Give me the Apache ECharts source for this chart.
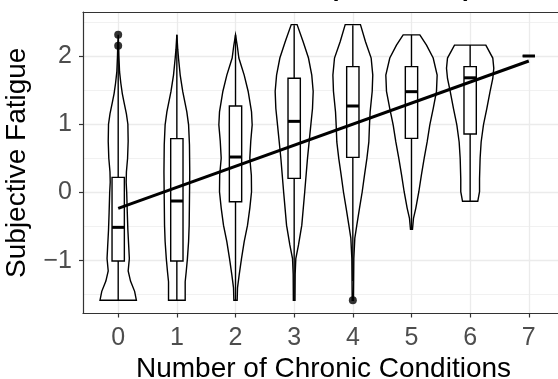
<!DOCTYPE html>
<html><head><meta charset="utf-8">
<script src="https://cdn.jsdelivr.net/npm/echarts@6/dist/echarts.min.js"></script>
<style>html,body{margin:0;padding:0;background:#fff}#c{width:558px;height:379px}</style>
</head><body><div id="c"></div>
<script>
// ---- data ----
const categories = [0, 1, 2, 3, 4, 5, 6, 7];
const yTickValues = [-1, 0, 1, 2];
const yMinorValues = [-1.5, -0.5, 0.5, 1.5, 2.5];
const titleText = 'Chronic Conditions (2019, 2021)';

// violin outlines: [value, half-width in category units]
const violin0 = [[2.31,0],[2.2,0.006],[2.0,0.012],[1.77,0.023],[1.6,0.045],[1.45,0.07],[1.33,0.097],[1.15,0.14],[1.0,0.165],[0.75,0.17],[0.5,0.16],[0.3,0.14],[0.15,0.136],[0,0.145],[-0.3,0.155],[-0.55,0.165],[-0.8,0.18],[-0.97,0.19],[-1.15,0.17],[-1.3,0.21],[-1.45,0.28],[-1.58,0.31]];
const violin1 = [[2.31,0],[2.1,0.015],[1.97,0.028],[1.72,0.057],[1.48,0.1],[1.18,0.17],[0.99,0.2],[0.7,0.215],[0.3,0.22],[-0.1,0.215],[-0.48,0.21],[-0.72,0.2],[-0.97,0.18],[-1.16,0.16],[-1.31,0.142],[-1.58,0.142]];
const violin2 = [[2.31,0],[2.15,0.03],[1.97,0.057],[1.72,0.148],[1.48,0.216],[1.18,0.273],[0.99,0.284],[0.75,0.26],[0.5,0.244],[0.25,0.27],[0.01,0.273],[-0.23,0.244],[-0.48,0.205],[-0.72,0.148],[-0.97,0.102],[-1.21,0.0625],[-1.4,0.034],[-1.58,0.028]];
const violin3 = [[2.46,0.05],[2.21,0.153],[1.97,0.244],[1.72,0.3],[1.48,0.324],[1.23,0.3125],[0.99,0.284],[0.5,0.227],[0.01,0.18],[-0.48,0.13],[-0.77,0.074],[-0.97,0.028],[-1.2,0.017],[-1.58,0.014]];
const violin4 = [[2.46,0.13],[2.21,0.216],[1.97,0.3125],[1.72,0.34],[1.48,0.33],[1.18,0.295],[0.99,0.284],[0.74,0.273],[0.5,0.24],[0.26,0.2],[0.01,0.16],[-0.23,0.114],[-0.48,0.068],[-0.67,0.034],[-0.97,0.017],[-1.58,0.011]];
const violin5 = [[2.31,0.142],[2.16,0.256],[1.97,0.37],[1.72,0.4375],[1.48,0.426],[1.23,0.37],[0.99,0.3125],[0.74,0.267],[0.5,0.216],[0.26,0.17],[0.01,0.125],[-0.23,0.074],[-0.38,0.034],[-0.54,0.017]];
const violin6 = [[2.16,0.267],[1.97,0.386],[1.82,0.403],[1.67,0.386],[1.48,0.34],[1.23,0.284],[0.99,0.227],[0.74,0.1875],[0.5,0.17],[0.2,0.16],[0.01,0.16],[-0.13,0.13]];
const violinShapes = [violin0, violin1, violin2, violin3, violin4, violin5, violin6];

// boxplot statistics per category
const whiskerLow  = [-1.58, -1.58, -1.58, -1.58, -1.30, -0.54, -0.13, 2.0];
const boxQ1       = [-1.006, -1.006, -0.136, 0.206, 0.514, 0.793, 0.856, 2.0];
const boxMedian   = [-0.512, -0.126, 0.519, 1.042, 1.267, 1.477, 1.68, 2.0];
const boxQ3       = [0.221, 0.788, 1.267, 1.673, 1.844, 1.844, 1.844, 2.0];
const whiskerHigh = [2.0, 2.31, 2.31, 2.45, 2.45, 2.31, 2.16, 2.0];
const outliers = [[0, 2.15], [0, 2.31], [4, -1.58]];

// linear fit
const fitLine = [[0, -0.234], [7, 1.927]];

// ---- chart ----
const FONT = '"Liberation Sans", Arial, Helvetica, sans-serif';
const BOX_HW = 0.105;
const LW = 1.4;
const BORDER = { show: true, onZero: false, lineStyle: { color: '#333333', width: 1.2 } };
const chart = echarts.init(document.getElementById('c'), null, { renderer: 'canvas' });

function renderViolin(params, api) {
  const cx = api.value(0);
  const shape = violinShapes[params.dataIndex];
  const right = shape.map(p => api.coord([cx + p[1], p[0]]));
  const left = shape.slice().reverse().map(p => api.coord([cx - p[1], p[0]]));
  return { type: 'polygon', shape: { points: right.concat(left) },
    style: { fill: '#ffffff', stroke: '#000000', lineWidth: LW } };
}
function renderBox(params, api) {
  const x = api.value(0), wl = api.value(1), lo = api.value(2), md = api.value(3), hi = api.value(4), wh = api.value(5);
  const pTop = api.coord([x, wh]), pQ3 = api.coord([x, hi]), pQ1 = api.coord([x, lo]), pBot = api.coord([x, wl]);
  const tl = api.coord([x - BOX_HW, hi]), br = api.coord([x + BOX_HW, lo]);
  const ml = api.coord([x - BOX_HW, md]), mr = api.coord([x + BOX_HW, md]);
  const ls = { stroke: '#000000', lineWidth: LW };
  return { type: 'group', children: [
    { type: 'line', shape: { x1: pTop[0], y1: pTop[1], x2: pQ3[0], y2: pQ3[1] }, style: ls },
    { type: 'line', shape: { x1: pQ1[0], y1: pQ1[1], x2: pBot[0], y2: pBot[1] }, style: ls },
    { type: 'rect', shape: { x: tl[0], y: tl[1], width: br[0] - tl[0], height: br[1] - tl[1] },
      style: { fill: '#ffffff', stroke: '#000000', lineWidth: LW } },
    { type: 'line', shape: { x1: ml[0], y1: ml[1], x2: mr[0], y2: mr[1] }, style: { stroke: '#000000', lineWidth: 3 } }
  ]};
}

const option = {
  animation: false,
  backgroundColor: '#ffffff',
  textStyle: { fontFamily: FONT },
  title: { text: titleText, left: 86, top: -28,
    textStyle: { fontFamily: FONT, fontWeight: 'bold', fontSize: 25, color: '#000' } },
  grid: { left: 83, top: 12, width: 481, height: 301.5, outerBoundsMode: 'none', containLabel: false, show: false },
  xAxis: [{
    type: 'value', min: -0.6, max: 7.6, position: 'bottom',
    axisLine: BORDER,
    axisTick: { show: true, customValues: categories, length: 4, lineStyle: { color: '#333333', width: 1.2 } },
    axisLabel: { customValues: categories, color: '#4d4d4d', fontSize: 25, margin: 12, fontFamily: FONT },
    splitLine: { show: true, lineStyle: { color: '#ebebeb', width: 1.3 } },
    name: 'Number of Chronic Conditions', nameLocation: 'middle', nameGap: 42,
    nameTextStyle: { fontSize: 28, color: '#000', fontFamily: FONT }
  }, {
    type: 'value', min: -0.6, max: 7.6, position: 'top',
    axisLine: BORDER, axisTick: { show: false }, axisLabel: { show: false }, splitLine: { show: false }
  }],
  yAxis: [{
    type: 'value', min: -1.775, max: 2.645, position: 'left',
    axisLine: BORDER,
    axisTick: { show: true, customValues: yTickValues, length: 4, lineStyle: { color: '#333333', width: 1.2 } },
    axisLabel: { customValues: yTickValues, color: '#4d4d4d', fontSize: 25, margin: 11, fontFamily: FONT,
      formatter: v => String(v).replace('-', '\u2212') },
    splitLine: { show: true, lineStyle: { color: '#ebebeb', width: 1.3 } },
    name: 'Subjective Fatigue', nameLocation: 'middle', nameGap: 52,
    nameTextStyle: { fontSize: 28, color: '#000', fontFamily: FONT }
  }, {
    type: 'value', min: -1.775, max: 2.645, position: 'left',
    axisLine: { show: false, onZero: false },
    axisTick: { show: false, customValues: yMinorValues },
    axisLabel: { show: false, customValues: yMinorValues },
    splitLine: { show: true, lineStyle: { color: '#ebebeb', width: 0.7 } }
  }],
  series: [
    { type: 'custom', name: 'violin', renderItem: renderViolin, z: 2,
      data: violinShapes.map((s, i) => [categories[i], boxMedian[i]]), encode: { x: 0, y: 1 } },
    { type: 'custom', name: 'box', renderItem: renderBox, z: 3,
      data: categories.map((c, i) => [c, whiskerLow[i], boxQ1[i], boxMedian[i], boxQ3[i], whiskerHigh[i]]),
      encode: { x: 0, y: [1, 2, 3, 4, 5] } },
    { type: 'line', name: 'fit', data: fitLine, showSymbol: false, z: 4,
      lineStyle: { color: '#000000', width: 3 } },
    { type: 'scatter', name: 'outliers', data: outliers, symbolSize: 8, z: 5,
      itemStyle: { color: '#000000' } }
  ]
};
chart.setOption(option);
</script>
</body></html>
